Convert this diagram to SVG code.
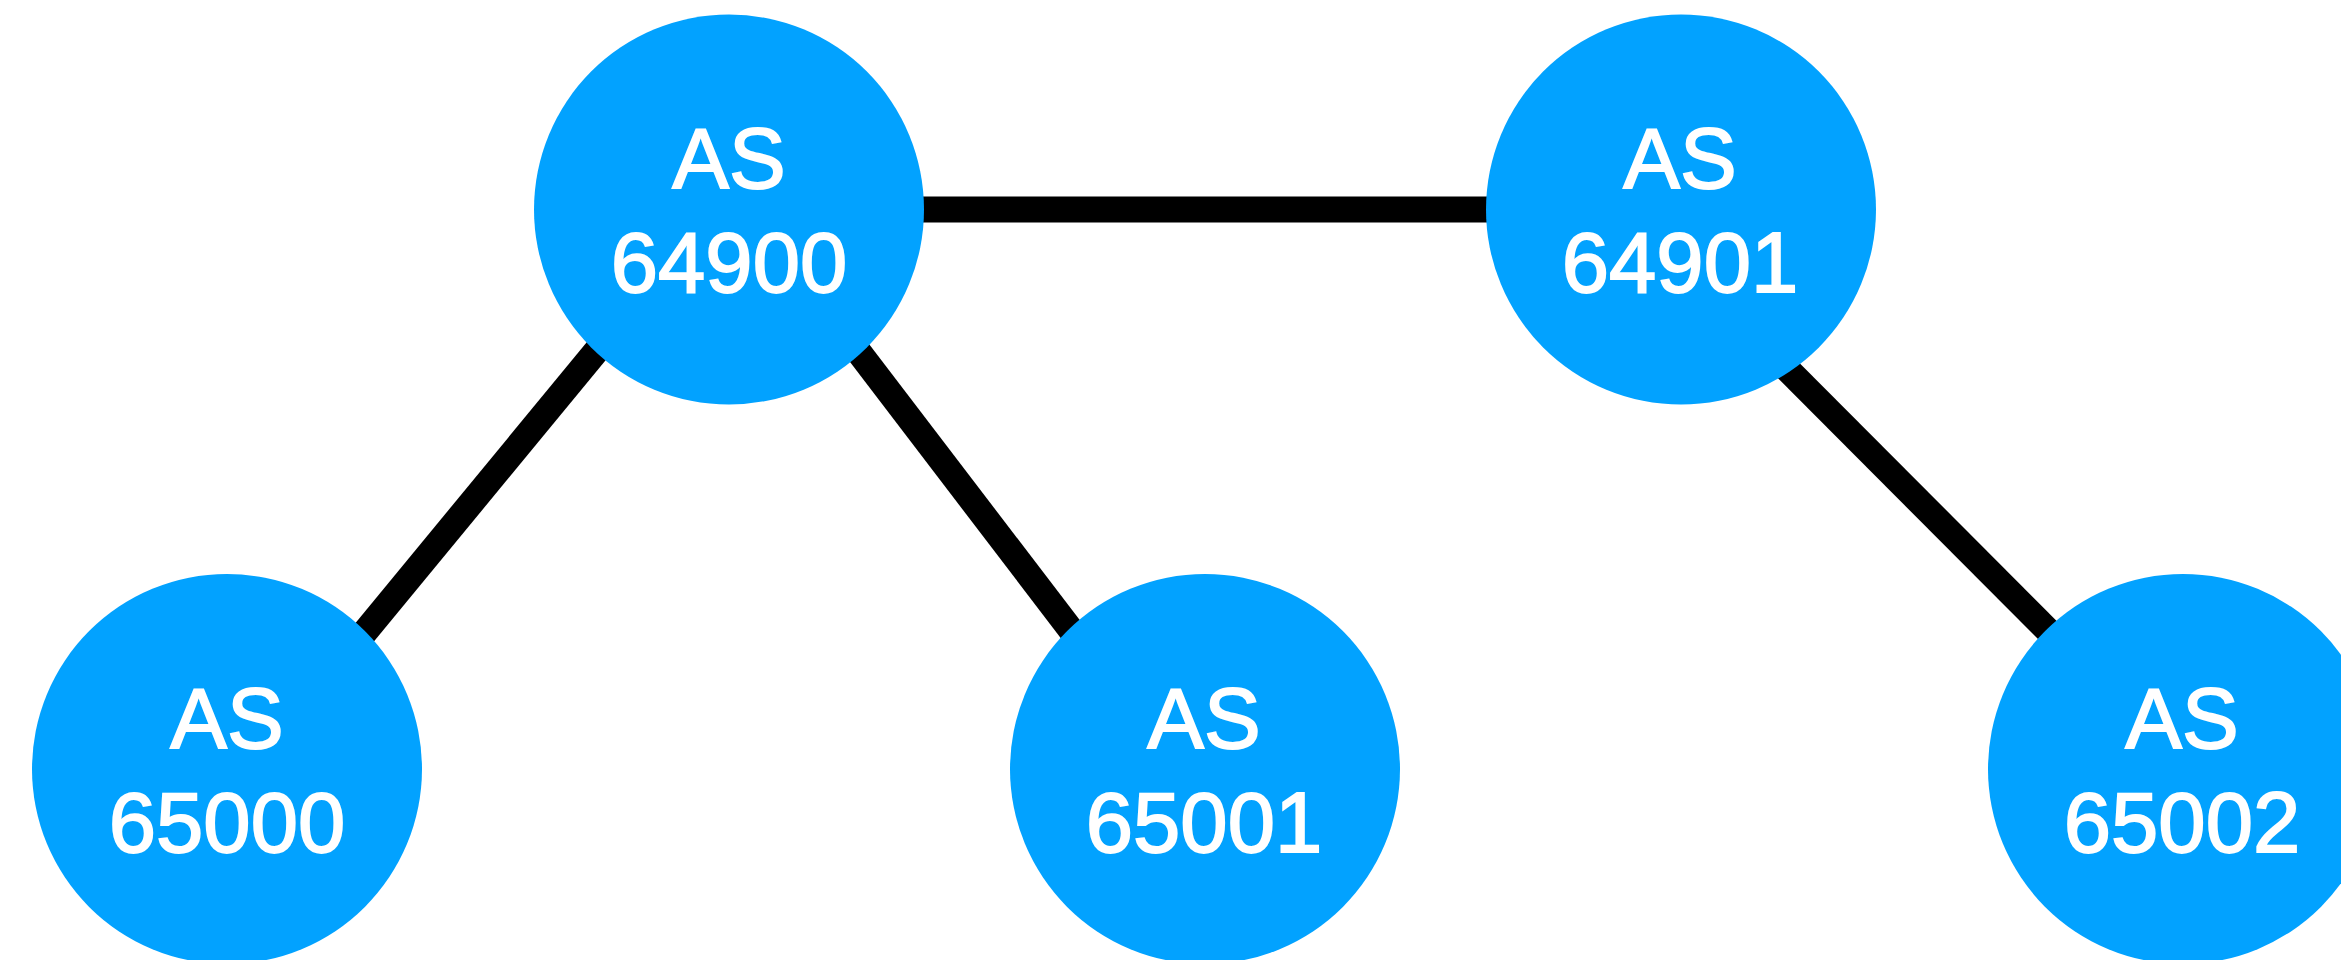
<svg xmlns="http://www.w3.org/2000/svg" width="2341" height="960" viewBox="0 0 2341 960">
<style>
.link{stroke:#000;stroke-width:26;fill:none}
.node{fill:#02A2FF}
.lbl{fill:#fff;stroke:#fff;stroke-width:1.8;font-family:"Liberation Sans",Arial,sans-serif;font-size:85px;text-anchor:middle}
</style>
<rect width="2341" height="960" fill="#fff"/>
<g id="connectors">
<line class="link" x1="729" y1="209.5" x2="1681" y2="209.5"/>
<line class="link" x1="713" y1="209.5" x2="252" y2="769"/>
<line class="link" x1="750" y1="209.5" x2="1177" y2="769"/>
<line class="link" x1="1628" y1="209.5" x2="2186" y2="769"/>
</g>
<g id="as64900">
<circle class="node" cx="729" cy="209.5" r="195"/>
<text class="lbl" x="729" y="188">AS</text>
<text class="lbl" x="729" y="292">64900</text>
</g>
<g id="as64901">
<circle class="node" cx="1681" cy="209.5" r="195"/>
<text class="lbl" x="1680" y="188">AS</text>
<text class="lbl" x="1680" y="292">64901</text>
</g>
<g id="as65000">
<circle class="node" cx="227" cy="769" r="195"/>
<text class="lbl" x="227" y="748">AS</text>
<text class="lbl" x="227" y="852">65000</text>
</g>
<g id="as65001">
<circle class="node" cx="1205" cy="769" r="195"/>
<text class="lbl" x="1204" y="748">AS</text>
<text class="lbl" x="1204" y="852">65001</text>
</g>
<g id="as65002">
<circle class="node" cx="2183" cy="769" r="195"/>
<text class="lbl" x="2182" y="748">AS</text>
<text class="lbl" x="2182" y="852">65002</text>
</g>
</svg>
